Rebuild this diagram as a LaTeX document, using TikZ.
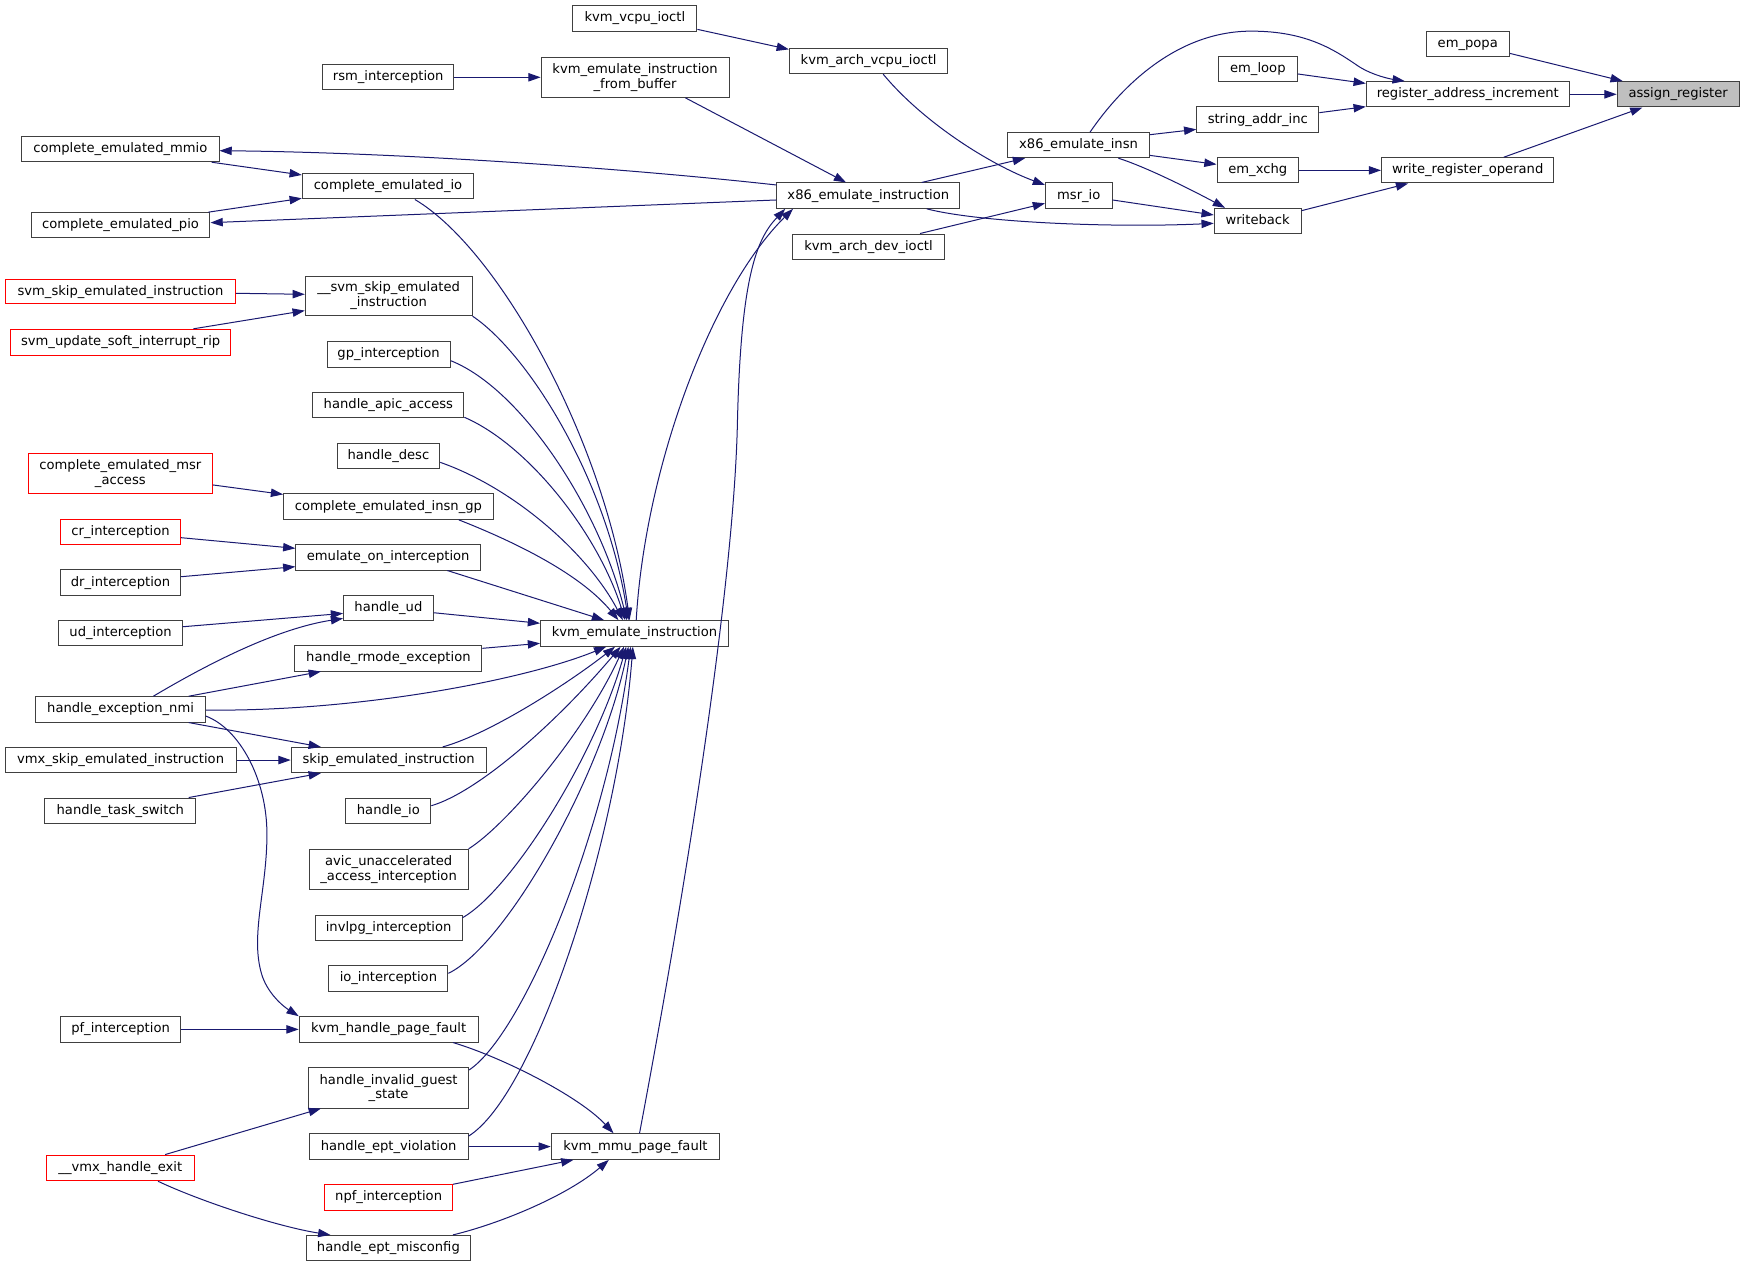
\documentclass[tikz,border=0pt]{standalone}
\usepackage{fontspec}
\setmainfont{DejaVu Sans}
\usetikzlibrary{arrows.meta}
\definecolor{edgec}{HTML}{191970}
\definecolor{boxc}{HTML}{404040}
\definecolor{fillc}{HTML}{BFBFBF}
\definecolor{redc}{HTML}{FF0000}
\newcommand\tstrut{\rule[-3.5pt]{0pt}{13.3pt}}
\newcommand\nb[7][]{\node[box,#1,minimum width={(#4-#2)*1pt},minimum height={(#5-#3)*1pt}] (#6) at ({(#2+#4)/2},{(#3+#5)/2}) {#7};}
\tikzset{
  box/.style={draw=boxc, line width=0.9pt, fill=white, inner sep=0pt, align=center, font=\fontsize{11.8}{13.3}\selectfont},
  redbox/.style={draw=redc},
  rootbox/.style={fill=fillc},
  edge/.style={draw=edgec, line width=0.9pt, -{Triangle[length=11pt,width=7.5pt]}}
}
\begin{document}
\begin{tikzpicture}[x=1pt,y=-1pt]
\useasboundingbox[fill=white] (0,0) rectangle (1568,1139.2);
% nodes
\nb[rootbox]{1454}{73.4}{1563.5}{96.2}{asg}{assign\_register\tstrut}
\nb{1282.3}{27.9}{1357}{50.7}{popa}{em\_popa\tstrut}
\nb{1228.4}{73.4}{1410.9}{96.2}{rai}{register\_address\_increment\tstrut}
\nb{1095.5}{51}{1166.3}{73.4}{loop}{em\_loop\tstrut}
\nb{1076}{96.2}{1185.7}{119}{sai}{string\_addr\_inc\tstrut}
\nb{1242.1}{141.8}{1397.1}{164.5}{wro}{write\_register\_operand\tstrut}
\nb{1094.2}{141.8}{1167.5}{164.5}{xchg}{em\_xchg\tstrut}
\nb{1091.7}{187.3}{1169.8}{210.1}{wb}{writeback\tstrut}
\nb{906}{119.3}{1033.4}{141.8}{xinsn}{x86\_emulate\_insn\tstrut}
\nb{940}{164.5}{999.8}{187.3}{msr}{msr\_io\tstrut}
\nb{712.5}{210.4}{849.3}{233.2}{kadi}{kvm\_arch\_dev\_ioctl\tstrut}
\nb{709.7}{43.5}{852.2}{66.2}{kavi}{kvm\_arch\_vcpu\_ioctl\tstrut}
\nb{515}{5.1}{626.6}{27.9}{kvi}{kvm\_vcpu\_ioctl\tstrut}
\nb{486.5}{51.5}{655.5}{87.5}{keifb}{kvm\_emulate\_instruction\tstrut\\\_from\_buffer\tstrut}
\nb{290}{58.1}{408}{80.9}{rsm}{rsm\_interception\tstrut}
\nb{698.4}{164.5}{863}{187.3}{xei}{x86\_emulate\_instruction\tstrut}
\nb{19.5}{122.9}{196.9}{145.4}{mmio}{complete\_emulated\_mmio\tstrut}
\nb{271.8}{156.4}{425.9}{178.9}{cio}{complete\_emulated\_io\tstrut}
\nb{27.9}{191.2}{188.8}{213.7}{pio}{complete\_emulated\_pio\tstrut}
\nb[redbox]{5.1}{250.9}{211.6}{273.3}{sseir}{svm\_skip\_emulated\_instruction\tstrut}
\nb{274.5}{248.2}{424.4}{283.8}{ssei}{\_\_svm\_skip\_emulated\tstrut\\\_instruction\tstrut}
\nb[redbox]{9.6}{296.1}{207.4}{319.2}{susir}{svm\_update\_soft\_interrupt\_rip\tstrut}
\nb{294}{307.2}{404.8}{330}{gp}{gp\_interception\tstrut}
\nb{281.3}{352.8}{417.1}{375.8}{apic}{handle\_apic\_access\tstrut}
\nb{303}{398.6}{395.4}{421.4}{desc}{handle\_desc\tstrut}
\nb[redbox]{25.5}{407.6}{190.9}{443.6}{cema}{complete\_emulated\_msr\tstrut\\\_access\tstrut}
\nb{255}{443.9}{443.4}{466.9}{ceig}{complete\_emulated\_insn\_gp\tstrut}
\nb[redbox]{54.7}{466.9}{162.1}{489.4}{cr}{cr\_interception\tstrut}
\nb{266}{489.7}{432}{512.5}{eoi}{emulate\_on\_interception\tstrut}
\nb{54.3}{512.2}{162.5}{535.3}{dr}{dr\_interception\tstrut}
\nb{308.9}{535.3}{389.5}{558}{hud}{handle\_ud\tstrut}
\nb{53}{558}{163.8}{580.8}{udi}{ud\_interception\tstrut}
\nb{486}{558}{655}{581}{kei}{kvm\_emulate\_instruction\tstrut}
\nb{265.2}{580.5}{433.2}{603.3}{hre}{handle\_rmode\_exception\tstrut}
\nb{32.2}{626.4}{184.6}{649.2}{nmi}{handle\_exception\_nmi\tstrut}
\nb{4.7}{672}{212.2}{694.7}{vsei}{vmx\_skip\_emulated\_instruction\tstrut}
\nb{261.8}{672}{437}{694.7}{sei}{skip\_emulated\_instruction\tstrut}
\nb{40.3}{717.5}{176.1}{740.3}{hts}{handle\_task\_switch\tstrut}
\nb{311}{717.5}{387.4}{740.3}{hio}{handle\_io\tstrut}
\nb{277.9}{763.6}{420.9}{799.6}{avic}{avic\_unaccelerated\tstrut\\\_access\_interception\tstrut}
\nb{283.4}{822.7}{415.4}{845.8}{invl}{invlpg\_interception\tstrut}
\nb{295.7}{868.3}{402.7}{891}{ioi}{io\_interception\tstrut}
\nb{54.3}{914.1}{162.5}{936.9}{pf}{pf\_interception\tstrut}
\nb{269}{914.1}{429.8}{936.9}{khpf}{kvm\_handle\_page\_fault\tstrut}
\nb{277.5}{960}{421.3}{996.2}{higs}{handle\_invalid\_guest\tstrut\\\_state\tstrut}
\nb{277.9}{1019.3}{420.9}{1042.4}{hev}{handle\_ept\_violation\tstrut}
\nb{495.6}{1019.3}{647.1}{1042.4}{kmpf}{kvm\_mmu\_page\_fault\tstrut}
\nb[redbox]{41.6}{1038.5}{174.8}{1061.6}{vhe}{\_\_vmx\_handle\_exit\tstrut}
\nb[redbox]{291.9}{1065.2}{406.9}{1087.9}{npf}{npf\_interception\tstrut}
\nb{275.4}{1110.7}{423}{1133.5}{hem}{handle\_ept\_misconfig\tstrut}
% edges
\draw[edge] (popa.east |- 0,48) -- (asg.north -| 1459,0);
\draw[edge] (rai.east) -- (asg.west);
\draw[edge] (wro.north -| 1352,0) -- (asg.south -| 1476.7,0);
\draw[edge] (loop.east |- 0,66.5) -- (rai.west |- 0,75);
\draw[edge] (sai.east |- 0,101.3) -- (rai.west |- 0,95.9);
\draw[edge] (xinsn.north -| 980,0) .. controls (1010,75) and (1060,28) .. (1125,28) .. controls (1175,28) and (1200,45) .. (1222,60) .. controls (1235,68) and (1250,71) .. (rai.north -| 1263,0);
\draw[edge] (xchg.east) -- (wro.west);
\draw[edge] (wb.east |- 0,189.4) -- (wro.south -| 1266,0);
\draw[edge] (xinsn.east |- 0,121.1) -- (sai.west |- 0,116.3);
\draw[edge] (xinsn.east |- 0,139.7) -- (xchg.west |- 0,147.8);
\draw[edge] (xinsn.south -| 1005.5,0) .. controls (1030,150) and (1070,170) .. (wb.north -| 1101.4,0);
\draw[edge] (msr.east |- 0,179.8) -- (wb.west |- 0,193.3);
\draw[edge] (xei.south -| 833.2,0) .. controls (880,200) and (1000,205) .. (wb.west |- 0,200.8);
\draw[edge] (xei.north -| 828.7,0) -- (xinsn.south -| 921.6,0);
\draw[edge] (kavi.south -| 794,0) .. controls (830,110) and (890,148) .. (msr.west |- 0,166.3);
\draw[edge] (kadi.north -| 827.2,0) -- (msr.west |- 0,182.8);
\draw[edge] (kvi.east |- 0,26.4) -- (kavi.west |- 0,44.4);
\draw[edge] (rsm.east) -- (keifb.west);
\draw[edge] (keifb.south -| 616.2,0) -- (xei.north -| 760.7,0);
\draw[edge] (xei.west |- 0,166.3) .. controls (550,150) and (350,137) .. (mmio.east |- 0,135.5);
\draw[edge] (xei.west |- 0,179.8) -- (pio.east |- 0,200.2);
\draw[edge] (mmio.south -| 190.3,0) -- (cio.west |- 0,157.3);
\draw[edge] (pio.north -| 187.3,0) -- (cio.west |- 0,178.3);
\draw[edge] (cio.south -| 373,0) .. controls (450,225) and (545,400) .. (kei.north -| 566,0);
\draw[edge] (sseir.east |- 0,263.7) -- (ssei.west |- 0,264.6);
\draw[edge] (susir.north -| 173.8,0) -- (ssei.west |- 0,279.3);
\draw[edge] (ssei.south east) .. controls (475,318) and (545,430) .. (kei.north -| 565,0);
\draw[edge] (gp.east |- 0,324.3) .. controls (470,350) and (540,460) .. (kei.north -| 563.5,0);
\draw[edge] (apic.east |- 0,375.2) .. controls (475,400) and (538,480) .. (kei.north -| 562,0);
\draw[edge] (desc.east |- 0,415.7) .. controls (465,440) and (530,500) .. (kei.north -| 560,0);
\draw[edge] (cema.east |- 0,436) -- (ceig.west |- 0,444.5);
\draw[edge] (ceig.south -| 412.4,0) .. controls (475,492) and (525,520) .. (kei.north -| 556,0);
\draw[edge] (cr.east |- 0,483.4) -- (eoi.west |- 0,493);
\draw[edge] (dr.east |- 0,518.5) -- (eoi.west |- 0,509.5);
\draw[edge] (eoi.south -| 402.2,0) -- (kei.north -| 543.1,0);
\draw[edge] (hud.east |- 0,550.9) -- (kei.west |- 0,560.4);
\draw[edge] (udi.east |- 0,563.5) -- (hud.west |- 0,551.5);
\draw[edge] (nmi.north -| 137.9,0) .. controls (190,595) and (250,565) .. (hud.west |- 0,556);
\draw[edge] (nmi.north -| 169.7,0) -- (hre.south -| 288.5,0);
\draw[edge] (hre.east |- 0,582.9) -- (kei.west |- 0,578.4);
\draw[edge] (nmi.east |- 0,638.4) .. controls (320,640) and (470,612) .. (kei.south -| 545,0);
\draw[edge] (nmi.south -| 169.7,0) -- (sei.north -| 288.5,0);
\draw[edge] (nmi.east |- 0,643.8) .. controls (215,655) and (240,700) .. (240,750) .. controls (240,800) and (225,840) .. (235,875) .. controls (240,893) and (255,905) .. (khpf.north west);
\draw[edge] (vsei.east) -- (sei.west);
\draw[edge] (hts.north -| 169.7,0) -- (sei.south -| 288.5,0);
\draw[edge] (sei.north -| 398,0) .. controls (440,660) and (510,615) .. (kei.south -| 553,0);
\draw[edge] (hio.east |- 0,724.4) .. controls (430,712) and (500,650) .. (kei.south -| 558,0);
\draw[edge] (avic.north east) .. controls (455,742) and (525,660) .. (kei.south -| 561,0);
\draw[edge] (invl.east |- 0,825.1) .. controls (460,800) and (535,680) .. (kei.south -| 563,0);
\draw[edge] (ioi.east |- 0,875.1) .. controls (455,850) and (540,700) .. (kei.south -| 565,0);
\draw[edge] (higs.east |- 0,962) .. controls (470,930) and (545,750) .. (kei.south -| 567,0);
\draw[edge] (hev.east |- 0,1021.4) .. controls (480,985) and (555,760) .. (kei.south -| 569,0);
\draw[edge] (kei.north -| 572,0) .. controls (580,420) and (640,260) .. (xei.south -| 713,0);
\draw[edge] (kmpf.north -| 575,0) .. controls (620,780) and (660,520) .. (663,380) .. controls (666,250) and (680,215) .. (xei.south -| 706,0);
\draw[edge] (khpf.south -| 407.3,0) .. controls (450,950) and (520,985) .. (kmpf.north -| 551.6,0);
\draw[edge] (pf.east) -- (khpf.west);
\draw[edge] (hev.east) -- (kmpf.west);
\draw[edge] (npf.north east) -- (kmpf.south -| 515.5,0);
\draw[edge] (hem.north -| 407.3,0) .. controls (450,1100) and (510,1075) .. (kmpf.south -| 547.4,0);
\draw[edge] (vhe.north -| 148.5,0) -- (higs.south -| 288.5,0);
\draw[edge] (vhe.south -| 142.1,0) .. controls (180,1080) and (250,1103) .. (hem.north -| 297,0);
\end{tikzpicture}
\end{document}
